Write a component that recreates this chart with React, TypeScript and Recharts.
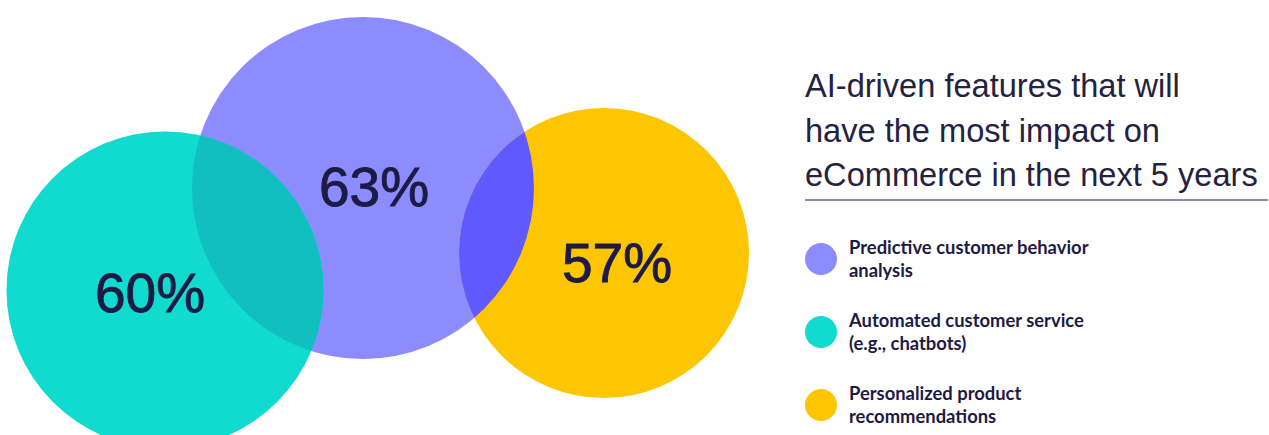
import React from 'react';
import { ScatterChart, Scatter, XAxis, YAxis, ZAxis, Cell, LabelList, Legend } from 'recharts';

// ---- data ----
const features = [
  'Predictive customer behavior analysis',
  'Automated customer service (e.g., chatbots)',
  'Personalized product recommendations',
];
const shares = [63, 60, 57];
const legendLines = [
  ['Predictive customer behavior', 'analysis'],
  ['Automated customer service', '(e.g., chatbots)'],
  ['Personalized product', 'recommendations'],
];
const titleLines = ['AI-driven features that will', 'have the most impact on', 'eCommerce in the next 5 years'];

// ---- layout & style (not data) ----
const bubbleX = [363, 165, 604];
const bubbleY = [188, 290, 253];
const labelDX = [11, -15, 13];
const labelDY = [-2, 2, 9];
const colors = ['#8c8cff', '#10dbce', '#fec600'];
const overlapColors = ['', '#11bec0', '#5f59ff'];
const TEXT = '#1d1a45';

const bubbles = features.map((f, i) => ({
  feature: f,
  share: shares[i],
  x: bubbleX[i],
  y: bubbleY[i],
  idx: i,
}));
const lensData = [bubbles[1], bubbles[2]];

const radiusOf = (p: any) =>
  p.size != null ? Math.sqrt(Math.max(p.size, 0) / Math.PI) : (p.width || 0) / 2;

const renderBubble = (p: any) => {
  const r = radiusOf(p);
  const idx = p.payload?.idx ?? 0;
  return (
    <g>
      <defs>
        <clipPath id={`bubble-clip-${idx}`}>
          <circle cx={p.cx} cy={p.cy} r={r} />
        </clipPath>
      </defs>
      <circle cx={p.cx} cy={p.cy} r={r} fill={p.fill} />
    </g>
  );
};

const renderLens = (p: any) => {
  const r = radiusOf(p);
  return <circle cx={p.cx} cy={p.cy} r={r} fill={p.fill} clipPath="url(#bubble-clip-0)" />;
};

const renderLabel = (props: any) => {
  const vb = props.viewBox && props.viewBox.width != null ? props.viewBox : props;
  const i = props.index ?? 0;
  const cx = vb.x + vb.width / 2 + labelDX[i];
  const cy = vb.y + vb.height / 2 + labelDY[i];
  return (
    <text
      key={`lbl-${i}`}
      x={cx}
      y={cy + 20}
      textAnchor="middle"
      fontSize={55}
      fontFamily="'Liberation Sans', Arial, sans-serif"
      fill={TEXT}
      stroke={TEXT}
      strokeWidth={0.9}
    >
      {`${props.value}%`}
    </text>
  );
};

const renderLegend = () => (
  <div style={{ position: 'relative', width: 1269, height: 435, fontFamily: "'Liberation Sans', Arial, sans-serif" }}>
    <div
      style={{
        position: 'absolute',
        left: 805,
        top: 64,
        fontSize: 32.6,
        lineHeight: '44.5px',
        color: '#25223f',
        whiteSpace: 'nowrap',
      }}
    >
      {titleLines.map((t) => (
        <div key={t}>{t}</div>
      ))}
    </div>
    <div style={{ position: 'absolute', left: 805, top: 199, width: 463, height: 2, background: '#8f8dab' }} />
    {legendLines.map((lines, i) => {
      const top = 236 + i * 73;
      return (
        <div key={i}>
          <div
            style={{
              position: 'absolute',
              left: 805,
              top: top + 7,
              width: 32,
              height: 32,
              borderRadius: 16,
              background: colors[i],
            }}
          />
          <div
            style={{
              position: 'absolute',
              left: 849,
              top,
              fontFamily: 'Lato, sans-serif',
              fontWeight: 700,
              fontSize: 18.4,
              lineHeight: '22.7px',
              color: TEXT,
              whiteSpace: 'nowrap',
            }}
          >
            {lines.map((l) => (
              <div key={l}>{l}</div>
            ))}
          </div>
        </div>
      );
    })}
  </div>
);

export default function App() {
  return (
    <div style={{ position: 'absolute', left: 0, top: 0, width: 1269, height: 435, background: '#fff' }}>
      <ScatterChart width={1269} height={435} margin={{ top: 0, right: 0, bottom: 0, left: 0 }}>
        <XAxis type="number" dataKey="x" domain={[0, 1269]} hide />
        <YAxis type="number" dataKey="y" domain={[0, 435]} reversed hide />
        <ZAxis type="number" dataKey="share" domain={[57, 63]} range={[66052, 91863]} />
        <Scatter data={bubbles} isAnimationActive={false} shape={renderBubble}>
          {bubbles.map((b, i) => (
            <Cell key={b.feature} fill={colors[i]} />
          ))}
          <LabelList dataKey="share" content={renderLabel} />
        </Scatter>
        <Scatter data={lensData} isAnimationActive={false} shape={renderLens}>
          {lensData.map((b) => (
            <Cell key={b.feature} fill={overlapColors[b.idx]} />
          ))}
        </Scatter>
        <Legend
          content={renderLegend}
          layout="vertical"
          align="center"
          verticalAlign="middle"
          wrapperStyle={{ left: 0, top: 0, width: 1269, height: 435, pointerEvents: 'none' }}
        />
      </ScatterChart>
    </div>
  );
}
